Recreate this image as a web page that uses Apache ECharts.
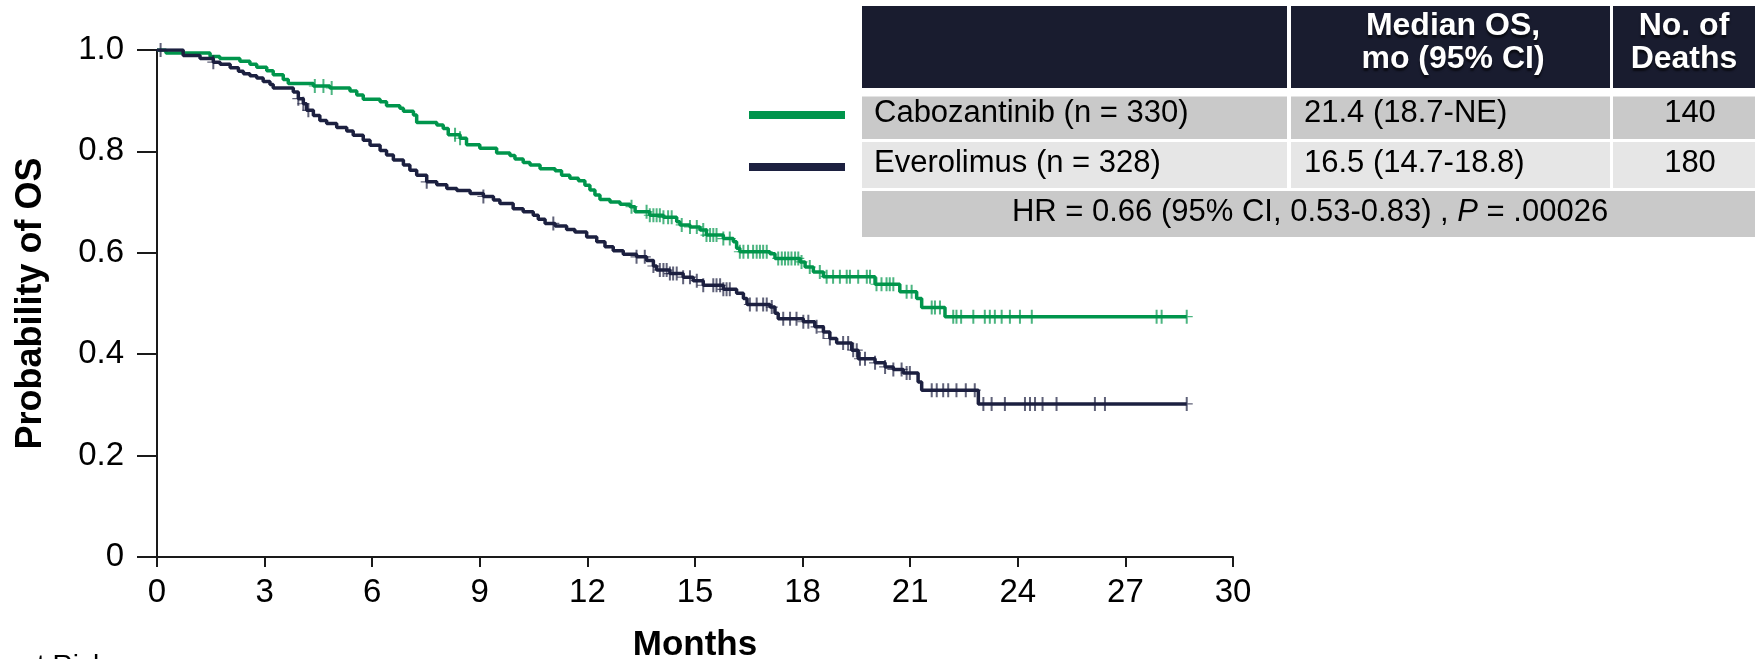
<!DOCTYPE html>
<html>
<head>
<meta charset="utf-8">
<script src="https://cdn.jsdelivr.net/npm/echarts@6/dist/echarts.min.js"></script>
<style>
  html, body { margin: 0; padding: 0; background: #ffffff; }
  #chart { width: 1758px; height: 659px; }
</style>
</head>
<body>
<div id="chart"></div>
<script>
// Axis ticks
const monthTicks = [0, 3, 6, 9, 12, 15, 18, 21, 24, 27, 30];
const probTicks = ['0', '0.2', '0.4', '0.6', '0.8', '1.0'];

// Kaplan-Meier steps: survival holds from each time until the next one
const caboTime = [0, 0.25, 1.48, 1.75, 2.31, 2.59, 2.78, 3.06, 3.24, 3.52, 3.66, 4.36, 4.82, 5.38, 5.57, 5.75,
  6.22, 6.40, 6.77, 6.87, 7.15, 7.24, 7.80, 7.98, 8.12, 8.45, 8.63, 9.00, 9.47, 9.84, 9.98, 10.21, 10.40,
  10.68, 11.10, 11.28, 11.51, 11.75, 11.93, 12.07, 12.21, 12.35, 12.63, 12.91, 13.19, 13.33, 13.74, 14.12,
  14.49, 14.58, 14.86, 15.14, 15.32, 15.79, 16.07, 16.16, 16.25, 17.09, 17.23, 17.93, 18.07, 18.30, 18.58,
  20.02, 20.71, 21.18, 21.32, 21.97, 28.71];
const caboSurv = [1.0, 0.994, 0.987, 0.983, 0.978, 0.972, 0.966, 0.959, 0.951, 0.942, 0.934, 0.929, 0.925, 0.919, 0.911, 0.903,
  0.898, 0.890, 0.885, 0.879, 0.872, 0.857, 0.852, 0.845, 0.833, 0.826, 0.813, 0.806, 0.797, 0.792, 0.785, 0.778, 0.773,
  0.766, 0.762, 0.753, 0.747, 0.742, 0.733, 0.724, 0.714, 0.705, 0.700, 0.696, 0.691, 0.681, 0.674, 0.670,
  0.661, 0.655, 0.651, 0.645, 0.635, 0.628, 0.622, 0.609, 0.602, 0.598, 0.589, 0.582, 0.572, 0.562, 0.553,
  0.538, 0.523, 0.510, 0.492, 0.474, 0.474];
const caboCensor = [4.40, 4.64, 4.87, 8.31, 8.45, 13.23, 13.65, 13.74, 13.84, 13.93, 14.02, 14.12, 14.25, 14.35,
  14.63, 14.86, 15.05, 15.23, 15.32, 15.42, 15.51, 15.60, 15.79, 15.97, 16.25, 16.35, 16.48, 16.62, 16.72,
  16.81, 16.90, 17.00, 17.32, 17.42, 17.51, 17.60, 17.69, 17.79, 17.88, 17.97, 18.20, 18.48, 18.67, 18.85,
  19.04, 19.23, 19.32, 19.55, 19.79, 19.88, 20.06, 20.20, 20.34, 20.43, 20.53, 20.90, 21.04, 21.60, 21.69,
  21.83, 22.20, 22.29, 22.42, 22.76, 23.08, 23.22, 23.36, 23.55, 23.78, 24.06, 24.39, 27.87, 28.01, 28.71];

const everoTime = [0, 0.73, 1.20, 1.57, 1.76, 2.04, 2.27, 2.41, 2.59, 2.78, 2.96, 3.15, 3.24, 3.80, 3.94, 4.08,
  4.17, 4.36, 4.54, 4.73, 5.01, 5.29, 5.47, 5.75, 5.94, 6.22, 6.40, 6.59, 6.87, 7.05, 7.24, 7.52, 7.80, 8.08,
  8.36, 8.73, 9.10, 9.38, 9.56, 9.93, 10.21, 10.49, 10.63, 10.82, 11.10, 11.42, 11.65, 11.98, 12.26, 12.49,
  12.72, 13.00, 13.37, 13.65, 13.84, 13.93, 14.30, 14.67, 14.95, 15.23, 15.79, 16.16, 16.35, 16.45, 17.09,
  17.23, 17.32, 18.02, 18.34, 18.58, 18.76, 18.95, 19.37, 19.55, 20.02, 20.30, 20.53, 20.81, 21.22, 21.32,
  22.90, 28.71];
const everoSurv = [1.0, 0.989, 0.983, 0.976, 0.972, 0.965, 0.958, 0.953, 0.949, 0.945, 0.938, 0.932, 0.925, 0.917, 0.904, 0.894,
  0.881, 0.871, 0.861, 0.855, 0.847, 0.840, 0.832, 0.822, 0.812, 0.802, 0.793, 0.783, 0.773, 0.763, 0.753, 0.740, 0.734, 0.727,
  0.723, 0.717, 0.711, 0.704, 0.697, 0.687, 0.681, 0.674, 0.666, 0.658, 0.653, 0.646, 0.641, 0.631, 0.622, 0.612,
  0.604, 0.597, 0.592, 0.585, 0.574, 0.566, 0.559, 0.552, 0.545, 0.536, 0.528, 0.520, 0.510, 0.498, 0.493,
  0.481, 0.470, 0.464, 0.454, 0.444, 0.431, 0.422, 0.408, 0.391, 0.383, 0.375, 0.370, 0.363, 0.345, 0.329,
  0.302, 0.302];
const everoCensor = [0.10, 1.57, 3.94, 4.08, 4.22, 7.52, 9.10, 11.05, 13.37, 13.60, 13.84, 14.02, 14.12, 14.21,
  14.30, 14.39, 14.49, 14.67, 14.86, 15.05, 15.23, 15.51, 15.60, 15.70, 15.79, 15.88, 15.97, 16.53, 16.72,
  16.90, 17.00, 17.14, 17.46, 17.65, 17.83, 18.02, 18.16, 18.39, 18.58, 18.76, 19.13, 19.27, 19.41, 19.51,
  19.60, 19.74, 20.02, 20.30, 20.53, 20.76, 20.90, 20.99, 21.60, 21.74, 21.92, 22.06, 22.29, 22.55, 22.80,
  23.04, 23.27, 23.64, 24.20, 24.34, 24.48, 24.69, 25.08, 26.15, 26.43, 28.71];

// Summary table
const tableHead = ['Median OS,\nmo (95% CI)', 'No. of\nDeaths'];
const armLabels = ['Cabozantinib (n = 330)', 'Everolimus (n = 328)'];
const medianOS = ['21.4 (18.7-NE)', '16.5 (14.7-18.8)'];
const deaths = ['140', '180'];
const hazardRatio = { hr: '0.66', ci: '0.53-0.83', p: '.00026' };

const GREEN = '#00954c';
const NAVY = '#1c2040';
const FONT = '"Liberation Sans", Arial, Helvetica, sans-serif';

function survivalAt(times, surv, t) {
  let s = surv[0];
  for (let i = 0; i < times.length; i++) {
    if (times[i] <= t) s = surv[i]; else break;
  }
  return s;
}

const curve = (times, surv) => times.map((t, i) => [t, surv[i]]);
const censorMarks = (cens, times, surv) => cens.map(t => [t, survivalAt(times, surv, t)]);

// "+" censor glyph: tall vertical bar, thin horizontal bar
const PLUS = 'path://M5,0H7V12H5Z M0,5.5H12V6.5H0Z';

const chart = echarts.init(document.getElementById('chart'), null, { renderer: 'canvas' });

const cellText = (x, y, text, align) => ({
  type: 'text', x: x, y: y,
  style: { text: text, fill: '#000', font: '31px ' + FONT, align: align, verticalAlign: 'middle' }
});

const rect = (x, y, w, h, fill) => ({ type: 'rect', shape: { x: x, y: y, width: w, height: h }, style: { fill: fill } });

const headText = (x, text) => ({
  type: 'text', x: x, y: 43,
  style: {
    text: text, fill: '#ffffff', font: 'bold 32px ' + FONT, align: 'center', verticalAlign: 'middle',
    lineHeight: 33, textShadowColor: 'rgba(0,0,0,0.6)', textShadowOffsetY: 3, textShadowBlur: 2
  }
});

const graphics = [
  // legend swatches
  rect(749, 111, 96, 8, GREEN),
  rect(749, 163, 96, 8, NAVY),
  // header
  rect(862, 6, 425, 82, '#191c2f'),
  rect(1291, 6, 319, 82, '#191c2f'),
  rect(1613, 6, 142, 82, '#191c2f'),
  // arm rows
  rect(862, 96.5, 425, 42.5, '#c9c9c9'),
  rect(1291, 96.5, 319, 42.5, '#c9c9c9'),
  rect(1613, 96.5, 142, 42.5, '#c9c9c9'),
  rect(862, 142, 425, 46, '#e6e6e6'),
  rect(1291, 142, 319, 46, '#e6e6e6'),
  rect(1613, 142, 142, 46, '#e6e6e6'),
  // hazard ratio row
  rect(862, 191, 893, 46, '#c9c9c9'),
  headText(1453, tableHead[0]),
  headText(1684, tableHead[1]),
  cellText(874, 113, armLabels[0], 'left'),
  cellText(874, 163, armLabels[1], 'left'),
  cellText(1304, 113, medianOS[0], 'left'),
  cellText(1304, 163, medianOS[1], 'left'),
  cellText(1690, 113, deaths[0], 'center'),
  cellText(1690, 163, deaths[1], 'center'),
  {
    type: 'text', x: 1310, y: 212,
    style: {
      text: '{n|HR = ' + hazardRatio.hr + ' (95% CI, ' + hazardRatio.ci + ') , }{i|P}{n| = ' + hazardRatio.p + '}',
      align: 'center', verticalAlign: 'middle',
      rich: {
        n: { fontSize: 31, fontFamily: FONT, color: '#000' },
        i: { fontSize: 31, fontFamily: FONT, fontStyle: 'italic', color: '#000' }
      }
    }
  },
  // risk table heading, mostly below the visible area
  {
    type: 'text', x: 107, y: 652,
    style: { text: 'Number at Risk', fill: '#000', font: '28px ' + FONT, align: 'right', verticalAlign: 'top' }
  }
];

const option = {
  backgroundColor: '#ffffff',
  animation: false,
  grid: { left: 157, top: 50, right: 525, bottom: 102, containLabel: false, outerBoundsMode: 'none' },
  xAxis: {
    type: 'value', min: 0, max: 30, interval: 3,
    name: 'Months', nameLocation: 'middle', nameGap: 71,
    nameTextStyle: { fontFamily: FONT, fontSize: 35, fontWeight: 'bold', color: '#000' },
    axisLine: { show: true, lineStyle: { color: '#1a1a1a', width: 2 } },
    axisTick: { show: true, length: 10, lineStyle: { color: '#1a1a1a', width: 2 } },
    axisLabel: {
      margin: 19, fontFamily: FONT, fontSize: 33, color: '#000',
      formatter: v => String(monthTicks[monthTicks.indexOf(v)])
    },
    splitLine: { show: false }
  },
  yAxis: {
    type: 'value', min: 0, max: 1, interval: 0.2,
    name: 'Probability of OS', nameLocation: 'middle', nameRotate: 90, nameGap: 108,
    nameTextStyle: { fontFamily: FONT, fontSize: 36, fontWeight: 'bold', color: '#000' },
    axisLine: { show: true, lineStyle: { color: '#1a1a1a', width: 2 } },
    axisTick: { show: true, length: 20, lineStyle: { color: '#1a1a1a', width: 2 } },
    axisLabel: {
      margin: 33, fontFamily: FONT, fontSize: 33, color: '#000',
      formatter: (v, i) => probTicks[i]
    },
    splitLine: { show: false }
  },
  series: [
    {
      name: 'Cabozantinib', type: 'line', step: 'end', symbol: 'none', z: 3,
      data: curve(caboTime, caboSurv),
      lineStyle: { color: GREEN, width: 3.5 }
    },
    {
      name: 'Everolimus', type: 'line', step: 'end', symbol: 'none', z: 3,
      data: curve(everoTime, everoSurv),
      lineStyle: { color: NAVY, width: 3.5 }
    },
    {
      name: 'Cabozantinib censored', type: 'scatter', symbol: PLUS, symbolSize: [12, 14], z: 4,
      data: censorMarks(caboCensor, caboTime, caboSurv),
      itemStyle: { color: GREEN, opacity: 0.7 }
    },
    {
      name: 'Everolimus censored', type: 'scatter', symbol: PLUS, symbolSize: [12, 14], z: 4,
      data: censorMarks(everoCensor, everoTime, everoSurv),
      itemStyle: { color: NAVY, opacity: 0.7 }
    }
  ],
  graphic: graphics
};

chart.setOption(option);
</script>
</body>
</html>
